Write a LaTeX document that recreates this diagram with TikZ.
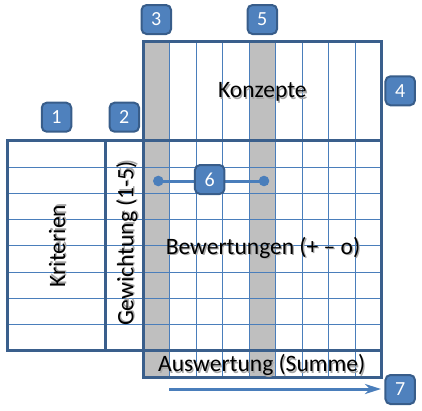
\documentclass[tikz,border=0pt]{standalone}
\usepackage{fontspec}
\setmainfont{Carlito}
\usetikzlibrary{arrows.meta}
\definecolor{thickc}{HTML}{3A5F8C}
\definecolor{thinc}{HTML}{4A7EBB}
\definecolor{grayc}{HTML}{BFBFBF}
\definecolor{badgefill}{HTML}{4F81BD}
\definecolor{badgeline}{HTML}{385D8A}
\newcommand{\shtxt}[1]{\makebox[0pt][l]{\raisebox{-1.3pt}{\hspace{1.3pt}\textcolor{black!35}{#1}}}#1}
\begin{document}
\begin{tikzpicture}[x=1pt,y=-1pt,
  thickline/.style={draw=thickc,line width=3pt},
  thinline/.style={draw=thinc,line width=0.9pt},
  graycol/.style={fill=grayc,draw=none},
  badge/.style={draw=badgeline,line width=2pt,fill=badgefill,rounded corners=5pt,
    minimum width=29.5pt,minimum height=29pt,inner sep=0pt,text=white,
    font=\fontsize{20}{24}\selectfont},
  label/.style={inner sep=0pt,anchor=base,font=\fontsize{23.5}{28}\selectfont},
  dot/.style={circle,fill=thinc,draw=none,minimum size=10.6pt,inner sep=0pt},
  conn/.style={draw=thinc,line width=3pt}]
\useasboundingbox (0,0) rectangle (422,410);
% gray columns
\fill[graycol] (145,41.7) rectangle (169.8,377.7);
\fill[graycol] (249.3,41.7) rectangle (275.75,377.7);
% thin grid: vertical
\foreach \k in {1,...,8}{
  \draw[thinline] (143.3+\k*26.49,41.7) -- (143.3+\k*26.49,377.7);
}
% thin grid: horizontal
\foreach \k in {1,...,7}{
  \draw[thinline] (7.3,140.7+\k*26.25) -- (381.7,140.7+\k*26.25);
}
% thick borders
\draw[thickline] (143.3,41.7) rectangle (381.7,377.7);
\draw[thickline] (7.3,140.7) rectangle (143.3,350.7);
\draw[thickline] (143.3,140.7) -- (381.7,140.7);
\draw[thickline] (105.7,140.7) -- (105.7,350.7);
\draw[thickline] (143.3,350.7) -- (381.7,350.7);
% labels
\node[label] (konz) at (262.4,97.7) {\shtxt{Konzepte}};
\node[label] (bew) at (263,254.3) {\shtxt{Bewertungen (+ – o)}};
\node[label] (ausw) at (261.7,371.7) {\shtxt{Auswertung (Summe)}};
\node[label,rotate=90] (krit) at (65,246) {\shtxt{Kriterien}};
\node[label,rotate=90] (gew) at (133.3,243.5) {\shtxt{Gewichtung (1-5)}};
% connector 6
\node[dot] (d1) at (158.3,181) {};
\node[dot] (d2) at (264,181) {};
\draw[conn] (d1.center) -- (d2.center);
% arrow 7
\coordinate (a7s) at (169,389);
\coordinate (a7e) at (381,389);
\draw[conn,-{Stealth[length=16pt,width=10pt,inset=5pt]}] (a7s) -- (a7e);
% badges
\node[badge] (b1) at (56.5,117.2) {1};
\node[badge] (b2) at (124.3,117.2) {2};
\node[badge] (b3) at (156.3,19.5) {3};
\node[badge] (b4) at (400.2,90.8) {4};
\node[badge] (b5) at (262.3,19.5) {5};
\node[badge] (b6) at (209.7,179.5) {6};
\node[badge] (b7) at (400.2,389.5) {7};
\end{tikzpicture}
\end{document}
